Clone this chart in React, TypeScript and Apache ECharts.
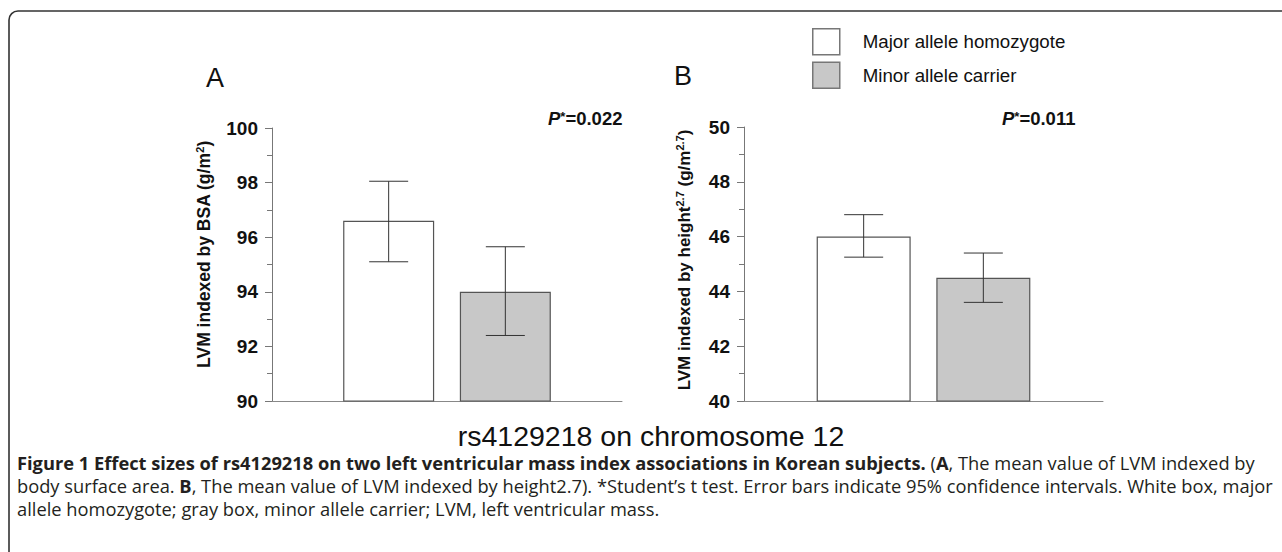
import React, { useEffect, useRef } from "react";
import * as echarts from "echarts";

const categories = ["", "Major allele homozygote", "Minor allele carrier", ""];
const seriesNames = ["Major allele homozygote", "Minor allele carrier"];
const bsaMeans = [96.6, 94.0];
const bsaLower = [95.1, 92.4];
const bsaUpper = [98.05, 95.65];
const htMeans = [46.0, 44.5];
const htLower = [45.25, 43.6];
const htUpper = [46.8, 45.4];
const bsaTicks = { min: 90, max: 100, interval: 2 };
const htTicks = { min: 40, max: 50, interval: 2 };
const pValues = ["0.022", "0.011"];
const title = "rs4129218 on chromosome 12";

const FONT = "'Liberation Sans', Arial, sans-serif";
const CAP = "'Open Sans', Lato, sans-serif";
const CAP_SIZE = 18.3;
const fills = ["#ffffff", "#c8c8c8"];

function errorRender(half: number) {
  return (params: any, api: any) => {
    const x = api.value(0);
    const lo = api.coord([x, api.value(1)]);
    const hi = api.coord([x, api.value(2)]);
    const st = { stroke: "#333", lineWidth: 1 };
    return {
      type: "group",
      children: [
        { type: "line", shape: { x1: lo[0], y1: lo[1], x2: hi[0], y2: hi[1] }, style: st },
        { type: "line", shape: { x1: lo[0] - half, y1: lo[1], x2: lo[0] + half, y2: lo[1] }, style: st },
        { type: "line", shape: { x1: hi[0] - half, y1: hi[1], x2: hi[0] + half, y2: hi[1] }, style: st },
      ],
    };
  };
}

export default function App() {
  const ref = useRef<HTMLDivElement>(null);
  useEffect(() => {
    const chart = echarts.init(ref.current!, null, { renderer: "svg" });
    const yAxisCommon = (t: any, name: string, gap: number, shift: number, size: number) => ({
      type: "value",
      min: t.min,
      max: t.max,
      interval: t.interval,
      name,
      nameLocation: "middle",
      nameGap: gap,
      nameTextStyle: {
        fontFamily: FONT,
        fontWeight: "bold",
        fontSize: size,
        color: "#111",
        padding: [0, 0, 0, shift],
        rich: {
          sup: { fontFamily: FONT, fontSize: 11, fontWeight: "bold", color: "#111", padding: [0, 0, 9, 0] },
        },
      },
      axisLine: { show: true, lineStyle: { color: "#777", width: 1 } },
      axisTick: { show: true, length: 7, lineStyle: { color: "#777" } },
      minorTick: { show: true, splitNumber: 2, length: 5, lineStyle: { color: "#777" } },
      splitLine: { show: false },
      axisLabel: { fontFamily: FONT, fontWeight: "bold", fontSize: 19, color: "#111", margin: 14 },
    });
    const xAxisCommon = (gi: number) => ({
      type: "category",
      gridIndex: gi,
      data: categories,
      boundaryGap: false,
      axisLine: { show: true, lineStyle: { color: "#888", width: 1 } },
      axisTick: { show: false },
      axisLabel: { show: false },
    });
    const barSeries = (gi: number, means: number[], width: number) =>
      seriesNames.map((n, i) => ({
        type: "bar",
        name: n,
        xAxisIndex: gi,
        yAxisIndex: gi,
        barWidth: width,
        barGap: "-100%",
        itemStyle: { color: fills[i], borderColor: "#555", borderWidth: 1.2 },
        data: categories.map((_, ci) => (ci === i + 1 ? means[i] : null)),
      }));
    const errSeries = (gi: number, lo: number[], hi: number[]) => ({
      type: "custom",
      xAxisIndex: gi,
      yAxisIndex: gi,
      z: 5,
      renderItem: errorRender(19.5),
      encode: { x: 0, y: [1, 2] },
      data: lo.map((l, i) => [i + 1, l, hi[i]]),
    });
    const pText = (x: number, y: number, v: string) => ({
      type: "text",
      x,
      y,
      style: {
        text: `{p|P}{s|*}{b|=${v}}`,
        rich: {
          p: { fontFamily: FONT, fontWeight: "bold", fontStyle: "italic", fontSize: 18.5, fill: "#111" },
          s: { fontFamily: FONT, fontWeight: "bold", fontSize: 13, fill: "#111", padding: [0, 0, 5, 0] },
          b: { fontFamily: FONT, fontWeight: "bold", fontSize: 18.5, fill: "#111" },
        },
      },
    });
    const capLine = (y: number, text: string) => ({
      type: "text",
      x: 17,
      y,
      style: {
        text,
        fill: "#231f20",
        font: `${CAP_SIZE}px ${CAP}`,
        rich: {
          n: { fontFamily: CAP, fontSize: CAP_SIZE, fill: "#231f20" },
          b: { fontFamily: CAP, fontSize: CAP_SIZE, fontWeight: "bold", fill: "#231f20" },
        },
      },
    });
    chart.setOption({
      animation: false,
      legend: {
        orient: "vertical",
        left: 807,
        top: 23,
        itemWidth: 27,
        itemHeight: 26,
        itemGap: 6,
        icon: "rect",
        data: seriesNames,
        textStyle: { fontFamily: FONT, fontSize: 18.7, color: "#111", padding: [0, 0, 0, 18] },
        itemStyle: { borderColor: "#777", borderWidth: 1.5 },
      },
      grid: [
        { left: 272, top: 128, width: 350, height: 273 },
        { left: 744, top: 127, width: 359, height: 274 },
      ],
      xAxis: [xAxisCommon(0), xAxisCommon(1)],
      yAxis: [
        { ...yAxisCommon(bsaTicks, "LVM indexed by BSA (g/m{sup|2})", 58, 20, 17.5), gridIndex: 0 },
        { ...yAxisCommon(htTicks, "LVM indexed by height{sup|2.7} (g/m{sup|2.7})", 50, 8, 17), gridIndex: 1 },
      ],
      series: [
        ...barSeries(0, bsaMeans, 91),
        errSeries(0, bsaLower, bsaUpper),
        ...barSeries(1, htMeans, 94),
        errSeries(1, htLower, htUpper),
      ],
      graphic: [
        {
          type: "rect",
          shape: { x: 9, y: 11, width: 1400, height: 700, r: 9 },
          style: { fill: "none", stroke: "#333", lineWidth: 1.6 },
        },
        { type: "text", x: 206, y: 64, style: { text: "A", font: `27px ${FONT}`, fill: "#111" } },
        { type: "text", x: 674, y: 62, style: { text: "B", font: `27px ${FONT}`, fill: "#111" } },
        pText(548, 109, pValues[0]),
        pText(1002, 109, pValues[1]),
        {
          type: "text",
          x: 651,
          y: 436,
          style: { text: title, font: `28.5px ${FONT}`, fill: "#111", align: "center", verticalAlign: "middle" },
        },
        capLine(453, "{b|Figure 1 Effect sizes of rs4129218 on two left ventricular mass index associations in Korean subjects.}{n| (}{b|A}{n|, The mean value of LVM indexed by}"),
        capLine(476, "{n|body surface area. }{b|B}{n|, The mean value of LVM indexed by height2.7). *Student\u2019s t test. Error bars indicate 95% confidence intervals. White box, major}"),
        capLine(499, "{n|allele homozygote; gray box, minor allele carrier; LVM, left ventricular mass.}"),
      ],
    });
    return () => chart.dispose();
  }, []);
  return (
    <div
      ref={ref}
      style={{ position: "fixed", left: 0, top: 0, width: 1282, height: 552, background: "#fff" }}
    />
  );
}
